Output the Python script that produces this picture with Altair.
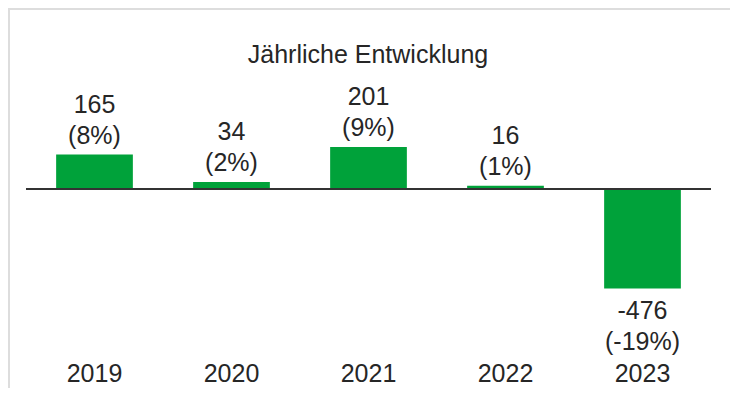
import altair as alt
import pandas as pd

years = ["2019", "2020", "2021", "2022", "2023"]
values = [165, 34, 201, 16, -476]
pcts = ["8%", "2%", "9%", "1%", "-19%"]
title_text = "Jährliche Entwicklung"

df = pd.DataFrame({
    "year": years,
    "value": values,
    "vlabel": [str(v) for v in values],
    "plabel": [f"({p})" for p in pcts],
})

FONT = "Liberation Sans"
FS = 25
GREEN = "#00a23a"
TXT = "#262626"
DOMAIN = [-823, 426]

x = alt.X("year:N", sort=years, title=None,
          scale=alt.Scale(paddingInner=0.44, paddingOuter=0.22),
          axis=alt.Axis(labelAngle=0, ticks=False, domain=False, labelPadding=0,
                        labelFontSize=FS, labelFont=FONT, labelColor=TXT))
y = alt.Y("value:Q", title=None, axis=None,
          scale=alt.Scale(domain=DOMAIN, nice=False, zero=True))

base = alt.Chart(df)

bars = base.mark_bar(color=GREEN).encode(x=x, y=y)

zero = alt.Chart(pd.DataFrame({"z": [0]})).mark_rule(color="#333333", strokeWidth=2).encode(
    y=alt.Y("z:Q", scale=alt.Scale(domain=DOMAIN, nice=False), axis=None)
)

tstyle = dict(fontSize=FS, font=FONT, color=TXT, baseline="alphabetic")

posdf = base.transform_filter("datum.value >= 0")
negdf = base.transform_filter("datum.value < 0")

pos_p = posdf.mark_text(dy=-11, **tstyle).encode(x=x, y=y, text="plabel:N")
pos_v = posdf.mark_text(dy=-42, **tstyle).encode(x=x, y=y, text="vlabel:N")
neg_v = negdf.mark_text(dy=31, **tstyle).encode(x=x, y=y, text="vlabel:N")
neg_p = negdf.mark_text(dy=62, **tstyle).encode(x=x, y=y, text="plabel:N")

title = alt.Chart(pd.DataFrame({"t": [title_text]})).mark_text(**tstyle).encode(
    x=alt.value(342), y=alt.value(-37), text="t:N"
)

border_left = alt.Chart(pd.DataFrame({"a": [0]})).mark_rule(color="#dddddd", strokeWidth=2).encode(
    x=alt.value(-17), y=alt.value(-92), y2=alt.value(300)
)
border_top = alt.Chart(pd.DataFrame({"a": [0]})).mark_rule(color="#dddddd", strokeWidth=2).encode(
    x=alt.value(-18), x2=alt.value(704), y=alt.value(-91)
)

chart = alt.layer(border_left, border_top, bars, zero, pos_p, pos_v, neg_v, neg_p, title).properties(
    width=685,
    height=261,
    padding={"left": 18, "top": 92, "right": 19, "bottom": 27},
    autosize=alt.AutoSizeParams(type="none"),
).configure_view(stroke=None)

chart.save("out.html", embed_options={"renderer": "svg", "actions": False})
